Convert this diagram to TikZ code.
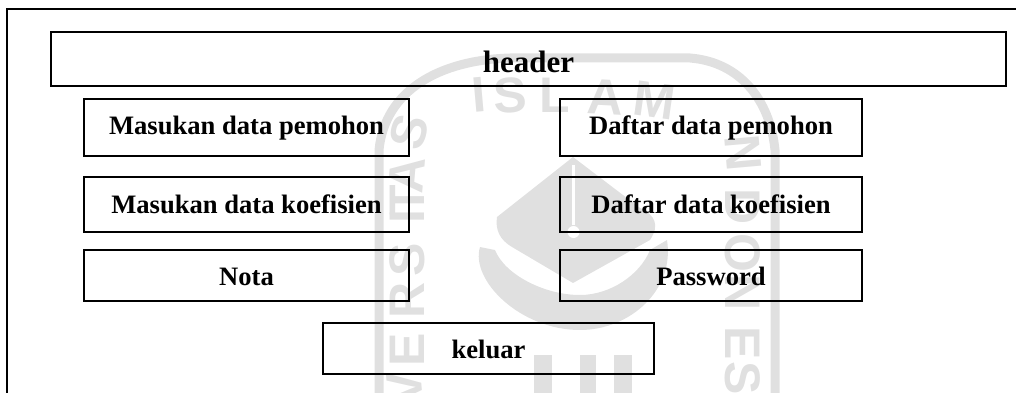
\documentclass[tikz,border=0pt]{standalone}
\usepackage{fontspec}
\setmainfont{Liberation Serif}
\newfontfamily\markfont{Liberation Sans}
\usetikzlibrary{positioning}
\definecolor{markgray}{gray}{0.88}
\tikzset{
menubox/.style={draw,line width=1.7pt,inner sep=0pt,align=center,text depth=5pt,text height=#1,font=\fontsize{26.6}{30}\selectfont\bfseries},
markletter/.style={text=markgray,inner sep=0pt,font=\fontsize{50}{50}\selectfont\markfont\bfseries}
}

\begin{document}
\begin{tikzpicture}[x=1pt,y=-1pt]
\useasboundingbox (0,0) rectangle (1016,393);
% watermark
\draw[markgray,line width=9pt] (379,393) -- (379,150) .. controls (385,90) and (440,60) .. (510,58) -- (690,58) .. controls (740,62) and (770,100) .. (775,150) -- (775,393);
\fill[markgray] (573,157) -- (497,217) .. controls (495,230) and (500,240) .. (512,247) -- (573,283) -- (650,240) .. controls (660,225) and (655,215) .. (640,208) -- cycle;
\fill[white] (572,165) rectangle (575,225);
\fill[white] (573.5,232) circle (6);
\fill[markgray] (480,247) .. controls (470,280) and (520,330) .. (580,330) .. controls (630,330) and (675,290) .. (667,240) -- (650,250) .. controls (640,275) and (610,295) .. (580,295) .. controls (545,295) and (505,275) .. (495,250) -- cycle;
\draw[markgray,line width=18pt] (543,393) -- (543,355);
\draw[markgray,line width=16pt] (588,393) -- (588,355);
\draw[markgray,line width=18pt] (623,393) -- (623,355);
\foreach \ch/\px/\py/\rot in {I/479/95/5,S/510/95/3,L/555/95/0,A/605/97/-3,M/655/100/-8,
S/409/132/75,A/407/175/85,T/407/200/90,I/407/217/90,S/407/260/90,R/407/300/90,E/407/350/90,V/405/388/95,
N/743/153/-85,D/743/207/-90,O/743/253/-90,N/743/293/-90,E/743/343/-90,S/743/378/-90}
  \node[markletter,rotate=\rot] (mark\px\py) at (\px,\py) {\ch};
% frame
\coordinate (frameBL) at (7,393);
\coordinate (frameTL) at (7,9);
\coordinate (frameTR) at (1016,9);
\draw[line width=1.7pt] (frameBL) -- (frameTL) -- (frameTR);
% menu
\node[menubox=33pt,minimum width=955,minimum height=54,font=\fontsize{31}{34}\selectfont\bfseries] (header) at (528.5,59) {header};
\node[menubox=18pt,minimum width=325,minimum height=57] (pemohonIn) at (246.5,127.5) {Masukan data pemohon};
\node[menubox=22pt,minimum width=325,minimum height=55] (koefIn) at (246.5,204.5) {Masukan data koefisien};
\node[menubox=24pt,minimum width=325,minimum height=51] (nota) at (246.5,275.5) {Nota};
\node[menubox=18pt,minimum width=302,minimum height=57] (pemohonList) at (711,127.5) {Daftar data pemohon};
\node[menubox=22pt,minimum width=302,minimum height=55] (koefList) at (711,204.5) {Daftar data koefisien};
\node[menubox=24pt,minimum width=302,minimum height=51] (password) at (711,275.5) {Password};
\node[menubox=24pt,minimum width=331,minimum height=51] (keluar) at (488.5,348.5) {keluar};
\end{tikzpicture}
\end{document}
